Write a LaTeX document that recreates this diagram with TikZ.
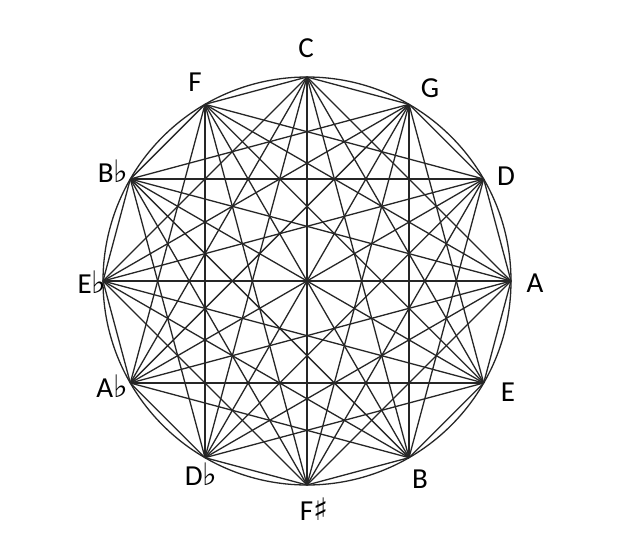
\documentclass[tikz,border=0pt]{standalone}
\usepackage{fontspec}
\setmainfont{Carlito}
\newfontfamily\symfont{DejaVu Sans Bold}
\newcommand{\myflat}{{\symfont\fontsize{31}{31}\selectfont ♭}}
\newcommand{\mysharp}{{\symfont\fontsize{31}{31}\selectfont ♯}}
\begin{document}
\begin{tikzpicture}[x=1pt,y=-1pt,
  edge/.style={line width=1.3pt,draw=black!85},
  lbl/.style={anchor=base,inner sep=0pt,font=\fontsize{29}{29}\selectfont}]
\useasboundingbox (0,0) rectangle (620,532);
\fill[white] (0,0) rectangle (620,532);
\coordinate (ctr) at (307,281);
\draw[edge] (ctr) circle[radius=204];
\foreach \k in {0,...,11}{
  \pgfmathsetmacro{\ang}{90-30*\k}
  \coordinate (v\k) at ({307+204*cos(\ang)},{281-204*sin(\ang)});
}
% every chord except the whole-tone ones (two steps apart)
\foreach \i in {0,...,11}{
  \foreach \j in {0,...,11}{
    \ifnum\i<\j
      \pgfmathtruncatemacro{\st}{\j-\i}
      \ifnum\st=2\else\ifnum\st=10\else
        \draw[edge] (v\i) -- (v\j);
      \fi\fi
    \fi
  }
}
\node[lbl] (lC) at (306,58) {C};
\node[lbl] (lG) at (430,98) {G};
\node[lbl] (lD) at (506,185) {D};
\node[lbl] (lA) at (535,292) {A};
\node[lbl] (lE) at (508,401) {E};
\node[lbl] (lB) at (420,488) {B};
\node[lbl] (lFs) at (314,520) {F\mysharp};
\node[lbl] (lDb) at (201,485) {D\myflat};
\node[lbl] (lAb) at (112,397) {A\myflat};
\node[lbl] (lEb) at (92,293) {E\myflat};
\node[lbl] (lBb) at (113,182) {B\myflat};
\node[lbl] (lF) at (195,92) {F};
\end{tikzpicture}
\end{document}
